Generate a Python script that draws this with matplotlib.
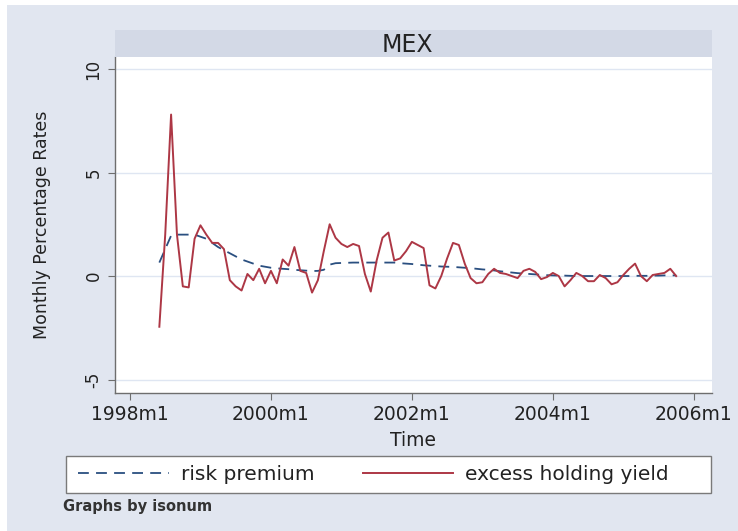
import numpy as np
import pandas as pd
import matplotlib
matplotlib.use("Agg")
import matplotlib.pyplot as plt
from matplotlib.lines import Line2D
from matplotlib.patches import Rectangle

# monthly observations for Mexico, 1998m6 - 2005m10
months = pd.period_range("1998-06", "2005-10", freq="M")

excess_yield = [
    -2.45, 2.0, 7.8, 2.0, -0.5, -0.55, 1.8, 2.45, 2.0, 1.6,
    1.6, 1.3, -0.2, -0.5, -0.7, 0.1, -0.2, 0.35, -0.35, 0.25,
    -0.35, 0.8, 0.5, 1.4, 0.25, 0.15, -0.8, -0.2, 1.2, 2.5,
    1.85, 1.55, 1.4, 1.55, 1.45, 0.1, -0.75, 0.75, 1.85, 2.1,
    0.75, 0.85, 1.2, 1.65, 1.5, 1.35, -0.45, -0.6, 0.0, 0.85,
    1.6, 1.5, 0.6, -0.1, -0.35, -0.3, 0.1, 0.35, 0.15, 0.1,
    0.0, -0.1, 0.25, 0.35, 0.2, -0.15, -0.05, 0.15, 0.0, -0.5,
    -0.2, 0.15, 0.0, -0.25, -0.25, 0.05, -0.1, -0.4, -0.3, 0.05,
    0.35, 0.6, 0.0, -0.25, 0.05, 0.1, 0.15, 0.35, 0.0,
]

risk_premium = [
    0.65, 1.3, 1.95, 2.0, 2.0, 2.0, 2.0, 1.9, 1.8, 1.6,
    1.4, 1.25, 1.1, 0.95, 0.8, 0.7, 0.6, 0.5, 0.45, 0.4,
    0.37, 0.35, 0.33, 0.3, 0.28, 0.26, 0.24, 0.25, 0.3, 0.55,
    0.62, 0.63, 0.64, 0.65, 0.65, 0.65, 0.65, 0.65, 0.65, 0.65,
    0.65, 0.62, 0.6, 0.58, 0.55, 0.52, 0.5, 0.48, 0.46, 0.45,
    0.44, 0.42, 0.4, 0.38, 0.35, 0.32, 0.3, 0.27, 0.23, 0.2,
    0.17, 0.14, 0.12, 0.1, 0.08, 0.06, 0.04, 0.03, 0.02, 0.02,
    0.01, 0.0, 0.0, 0.0, 0.0, 0.0, 0.0, 0.0, 0.0, 0.0,
    0.0, 0.01, 0.01, 0.01, 0.02, 0.02, 0.03, 0.03, 0.03,
]

xtick_years = [1998, 2000, 2002, 2004, 2006]
yticks = [-5, 0, 5, 10]
panel = "MEX"

# months counted from 1998m1
x = np.array([(p.year - 1998) * 12 + p.month - 1 for p in months])
xticks = [(y - 1998) * 12 for y in xtick_years]
xlabels = [f"{y}m1" for y in xtick_years]

bg = "#e1e6f0"
strip_col = "#d3d9e6"
grid_col = "#dfe6f2"
red = "#ad3745"
navy = "#2a4f80"

fig = plt.figure(figsize=(7.38, 5.31), dpi=100)
fig.patch.set_facecolor("white")
W, H = 738.0, 531.0
fig.patches.append(Rectangle((7 / W, 0), 1 - 7 / W, 1 - 5 / H,
                             transform=fig.transFigure, facecolor=bg,
                             edgecolor="none", zorder=-10))

ax = fig.add_axes([115 / W, 1 - 393 / H, (712 - 115) / W, (393 - 57) / H])
ax.set_facecolor("white")

ax.plot(x, risk_premium, color=navy, lw=1.3, dashes=(6, 4), zorder=3)
ax.plot(x, excess_yield, color=red, lw=1.4, zorder=4)

ax.set_ylim(-5.65, 10.58)
ax.set_xlim(-2.55, 99.1)
ax.set_yticks(yticks)
ax.set_yticklabels([str(t) for t in yticks], rotation=90, va="center",
                   fontsize=12)
ax.set_xticks(xticks)
ax.set_xticklabels(xlabels, fontsize=13.5)
ax.grid(axis="y", color=grid_col, lw=1.0)
ax.set_axisbelow(True)
for side in ["top", "right"]:
    ax.spines[side].set_visible(False)
for side in ["left", "bottom"]:
    ax.spines[side].set_color("#6e6e6e")
    ax.spines[side].set_linewidth(1.0)
ax.tick_params(axis="both", direction="out", length=5, width=0.8,
               color="#6e6e6e", labelcolor="#222222", pad=4)

ax.set_ylabel("Monthly Percentage Rates", fontsize=12.5, color="#222222",
              labelpad=24)
ax.set_xlabel("Time", fontsize=13.5, color="#222222", labelpad=5)

# panel title strip
strip = fig.add_axes([115 / W, 1 - 57 / H, (712 - 115) / W, 27 / H])
strip.set_facecolor(strip_col)
strip.set_xticks([])
strip.set_yticks([])
for s in strip.spines.values():
    s.set_visible(False)
strip.text(0.49, 0.45, panel, ha="center", va="center", fontsize=17,
           color="#222222", transform=strip.transAxes)

# legend: white box with the two keys inside
fig.patches.append(Rectangle((66 / W, 1 - 493 / H), (711 - 66) / W, 37 / H,
                             transform=fig.transFigure, facecolor="white",
                             edgecolor="#7a7a7a", lw=1.0, zorder=1))
handles = [Line2D([], [], color=navy, lw=1.3, dashes=(6, 4)),
           Line2D([], [], color=red, lw=1.4)]
leg = fig.legend(handles, ["risk premium", "excess holding yield"],
                 ncol=2, loc="center left",
                 bbox_to_anchor=(74 / W, 1 - 474.5 / H),
                 fontsize=14.5, frameon=False,
                 handlelength=4.5, handletextpad=0.6, columnspacing=2.4,
                 borderaxespad=0.0, borderpad=0.2)
for t in leg.get_texts():
    t.set_color("#222222")

fig.text(63 / W, 1 - 507 / H, "Graphs by isonum", fontsize=10.5,
         fontweight="bold", color="#333333", va="center", ha="left")

fig.savefig("out.png", dpi=100, facecolor=fig.get_facecolor())
